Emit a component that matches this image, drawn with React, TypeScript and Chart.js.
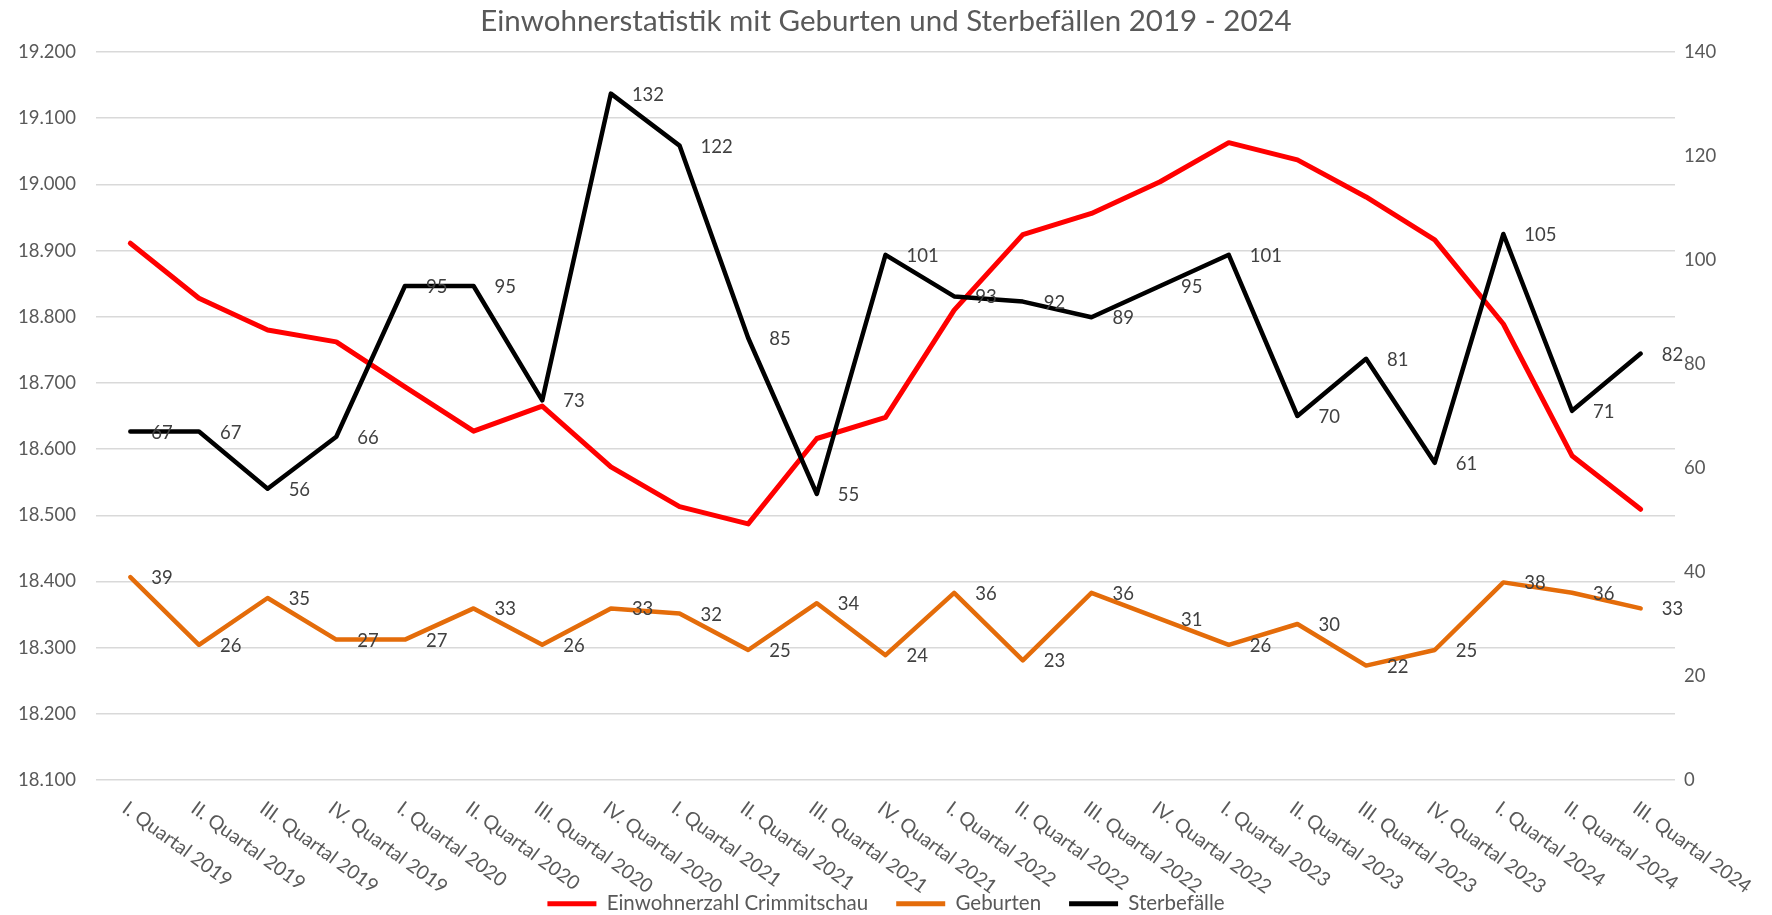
import React, { useEffect, useRef } from "react";
import { Chart, registerables } from "chart.js";

Chart.register(...registerables);

const categories = [
  "I. Quartal 2019", "II. Quartal 2019", "III. Quartal 2019", "IV. Quartal 2019",
  "I. Quartal 2020", "II. Quartal 2020", "III. Quartal 2020", "IV. Quartal 2020",
  "I. Quartal 2021", "II. Quartal 2021", "III. Quartal 2021", "IV. Quartal 2021",
  "I. Quartal 2022", "II. Quartal 2022", "III. Quartal 2022", "IV. Quartal 2022",
  "I. Quartal 2023", "II. Quartal 2023", "III. Quartal 2023", "IV. Quartal 2023",
  "I. Quartal 2024", "II. Quartal 2024", "III. Quartal 2024",
];

const einwohner = [
  18911, 18828, 18780, 18762, 18694, 18627, 18665, 18573, 18513, 18487, 18616, 18648,
  18810, 18924, 18956, 19004, 19063, 19037, 18981, 18916, 18789, 18590, 18509,
];
const geburten = [39, 26, 35, 27, 27, 33, 26, 33, 32, 25, 34, 24, 36, 23, 36, 31, 26, 30, 22, 25, 38, 36, 33];
const sterbefaelle = [67, 67, 56, 66, 95, 95, 73, 132, 122, 85, 55, 101, 93, 92, 89, 95, 101, 70, 81, 61, 105, 71, 82];

const leftMin = 18100;
const leftMax = 19200;
const leftStep = 100;
const rightMin = 0;
const rightMax = 140;
const rightStep = 20;

const TITLE = "Einwohnerstatistik mit Geburten und Sterbefällen 2019 - 2024";
const FONT = "Lato";
const TEXT = "#595959";
const LABEL_ANGLE = (36 * Math.PI) / 180;

const formatDe = (v: number) => String(Math.round(v)).replace(/\B(?=(\d{3})+(?!\d))/g, ".");

const dataLabelsPlugin = {
  id: "dataLabels",
  afterDatasetsDraw(chart: any) {
    const ctx = chart.ctx;
    ctx.save();
    ctx.font = `18.5px ${FONT}`;
    ctx.fillStyle = "#404040";
    ctx.textAlign = "left";
    ctx.textBaseline = "middle";
    chart.data.datasets.forEach((ds: any, di: number) => {
      if (!ds.showLabels) return;
      const meta = chart.getDatasetMeta(di);
      meta.data.forEach((pt: any, i: number) => {
        ctx.fillText(String(ds.data[i]), pt.x + 21, pt.y + 1);
      });
    });
    ctx.restore();
  },
};

const xLabelsPlugin = {
  id: "xLabels",
  afterDraw(chart: any) {
    const ctx = chart.ctx;
    const xs = chart.scales.x;
    const size = 19.5;
    const capH = 0.72 * size;
    const s = Math.sin(LABEL_ANGLE);
    const c = Math.cos(LABEL_ANGLE);
    const topY = chart.chartArea.bottom + 20;
    ctx.save();
    ctx.font = `${size}px ${FONT}`;
    ctx.fillStyle = TEXT;
    ctx.textAlign = "left";
    ctx.textBaseline = "alphabetic";
    categories.forEach((cat, i) => {
      const x = xs.getPixelForValue(i);
      ctx.save();
      ctx.translate(x - 1 - capH * s, topY + capH * c);
      ctx.rotate(LABEL_ANGLE);
      ctx.fillText(cat, 0, 0);
      ctx.restore();
    });
    ctx.restore();
  },
};

export default function App() {
  const ref = useRef<HTMLCanvasElement | null>(null);

  useEffect(() => {
    if (!ref.current) return;
    const chart = new Chart(ref.current, {
      type: "line",
      data: {
        labels: categories,
        datasets: [
          {
            label: "Einwohnerzahl Crimmitschau",
            data: einwohner,
            yAxisID: "y",
            borderColor: "#FF0000",
            backgroundColor: "#FF0000",
            borderWidth: 5,
            pointRadius: 0,
            pointHoverRadius: 0,
            tension: 0,
            borderJoinStyle: "round",
            borderCapStyle: "round",
            order: 3,
          } as any,
          {
            label: "Geburten",
            data: geburten,
            yAxisID: "y1",
            borderColor: "#E46C0A",
            backgroundColor: "#E46C0A",
            borderWidth: 4.5,
            pointRadius: 0,
            pointHoverRadius: 0,
            tension: 0,
            borderJoinStyle: "round",
            borderCapStyle: "round",
            order: 2,
            showLabels: true,
          } as any,
          {
            label: "Sterbefälle",
            data: sterbefaelle,
            yAxisID: "y1",
            borderColor: "#000000",
            backgroundColor: "#000000",
            borderWidth: 4.5,
            pointRadius: 0,
            pointHoverRadius: 0,
            tension: 0,
            borderJoinStyle: "round",
            borderCapStyle: "round",
            order: 1,
            showLabels: true,
          } as any,
        ],
      },
      options: {
        responsive: false,
        animation: false,
        devicePixelRatio: 1,
        layout: { padding: { top: 0, left: 0, right: 0, bottom: -9 } },
        plugins: {
          tooltip: { enabled: false },
          title: {
            display: true,
            text: TITLE,
            color: TEXT,
            font: { family: FONT, size: 29.5, weight: "normal", lineHeight: 1.2 },
            padding: { top: 4, bottom: 12.6 },
          },
          legend: {
            display: true,
            position: "bottom",
            labels: {
              boxWidth: 49,
              boxHeight: 5,
              padding: 28,
              color: TEXT,
              font: { family: FONT, size: 20.5 },
              generateLabels: (chart: any) =>
                (Chart.defaults.plugins.legend.labels as any)
                  .generateLabels(chart)
                  .map((l: any) => ({ ...l, lineWidth: 0 }))
                  .sort((a: any, b: any) => a.datasetIndex - b.datasetIndex),
            },
          },
        },
        scales: {
          x: {
            type: "category",
            offset: true,
            grid: { display: false, drawTicks: false },
            border: { display: false },
            ticks: { display: false },
            afterFit: (s: any) => {
              s.height = 85.5;
            },
          },
          y: {
            type: "linear",
            position: "left",
            min: leftMin,
            max: leftMax,
            grid: { color: "#d9d9d9", lineWidth: 1.5, drawTicks: false },
            border: { display: false },
            ticks: {
              stepSize: leftStep,
              padding: 20,
              color: TEXT,
              font: { family: FONT, size: 18.5 },
              callback: (v: any) => formatDe(Number(v)),
            },
            afterFit: (s: any) => {
              s.width = 96;
            },
          },
          y1: {
            type: "linear",
            position: "right",
            min: rightMin,
            max: rightMax,
            grid: { display: false, drawTicks: false },
            border: { display: false },
            ticks: {
              stepSize: rightStep,
              padding: 9,
              color: TEXT,
              font: { family: FONT, size: 18.5 },
            },
            afterFit: (s: any) => {
              s.width = 97;
            },
          },
        },
      },
      plugins: [dataLabelsPlugin, xLabelsPlugin],
    });
    return () => chart.destroy();
  }, []);

  return (
    <div style={{ position: "absolute", left: 0, top: 0, width: 1772, height: 915, background: "#fff" }}>
      <canvas ref={ref} width={1772} height={915} />
    </div>
  );
}
